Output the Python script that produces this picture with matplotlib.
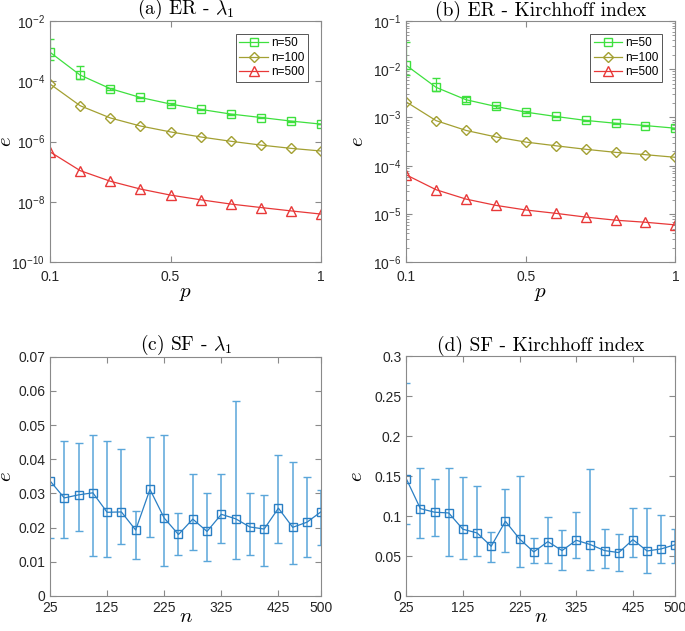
import matplotlib
matplotlib.use("Agg")
import matplotlib.pyplot as plt
import numpy as np

plt.rcParams['font.family'] = ['Liberation Sans', 'DejaVu Sans']
plt.rcParams['mathtext.fontset'] = 'cm'

# ---- ER data (p from 0.1 to 1) ----
p = [0.1, 0.2, 0.3, 0.4, 0.5, 0.6, 0.7, 0.8, 0.9, 1.0]

er_lam_50 = [9.1e-4, 1.6e-4, 5.7e-5, 2.9e-5, 1.76e-5, 1.17e-5, 8.2e-6, 6.3e-6, 4.8e-6, 3.8e-6]
er_lam_100 = [8.1e-5, 1.55e-5, 6.1e-6, 3.3e-6, 2.1e-6, 1.43e-6, 1.03e-6, 7.7e-7, 6.0e-7, 4.9e-7]
er_lam_500 = [4.6e-7, 1.1e-7, 4.9e-8, 2.7e-8, 1.7e-8, 1.19e-8, 8.6e-9, 6.6e-9, 5.1e-9, 4.0e-9]
er_lam_50_hi = [2.45e-3, 3.2e-4, 6.2e-5, 3.1e-5, 1.85e-5, 1.22e-5, 8.5e-6, 6.5e-6, 5.0e-6, 3.9e-6]
er_lam_50_lo = [5.0e-4, 1.23e-4, 5.2e-5, 2.7e-5, 1.67e-5, 1.12e-5, 7.9e-6, 6.1e-6, 4.6e-6, 3.7e-6]

er_kf_50 = [1.2e-2, 4.2e-3, 2.33e-3, 1.69e-3, 1.29e-3, 1.05e-3, 8.7e-4, 7.6e-4, 6.8e-4, 6.0e-4]
er_kf_100 = [2.1e-3, 8.6e-4, 5.4e-4, 3.96e-4, 3.1e-4, 2.6e-4, 2.2e-4, 1.9e-4, 1.7e-4, 1.5e-4]
er_kf_500 = [6.5e-5, 3.2e-5, 2.05e-5, 1.52e-5, 1.22e-5, 1.04e-5, 8.7e-6, 7.5e-6, 6.8e-6, 6.0e-6]
er_kf_50_hi = [3.6e-2, 6.6e-3, 2.6e-3, 1.8e-3, 1.35e-3, 1.09e-3, 9.0e-4, 7.8e-4, 7.0e-4, 6.2e-4]
er_kf_50_lo = [7.5e-3, 3.5e-3, 2.1e-3, 1.6e-3, 1.23e-3, 1.01e-3, 8.4e-4, 7.4e-4, 6.6e-4, 5.8e-4]

# ---- SF data (n from 25 to 500) ----
n = [25, 50, 75, 100, 125, 150, 175, 200, 225, 250, 275, 300, 325, 350, 375, 400, 425, 450, 475, 500]

sf_lam = [0.0337, 0.0287, 0.0296, 0.0302, 0.0245, 0.0246, 0.0193, 0.0312, 0.0228, 0.0180,
          0.0225, 0.0189, 0.0239, 0.0226, 0.0202, 0.0196, 0.0257, 0.0201, 0.0216, 0.0247]
sf_lam_hi = [0.0760, 0.0453, 0.0449, 0.0472, 0.0453, 0.0431, 0.0250, 0.0465, 0.0472, 0.0244,
             0.0357, 0.0301, 0.0357, 0.0572, 0.0300, 0.0295, 0.0412, 0.0391, 0.0347, 0.0310]
sf_lam_lo = [0.0170, 0.0170, 0.0190, 0.0117, 0.0115, 0.0151, 0.0109, 0.0174, 0.0089, 0.0121,
             0.0135, 0.0103, 0.0155, 0.0109, 0.0120, 0.0089, 0.0155, 0.0094, 0.0113, 0.0150]

sf_kf = [0.1469, 0.1093, 0.1048, 0.1039, 0.0835, 0.0789, 0.0622, 0.0935, 0.0714, 0.0551,
         0.0680, 0.0568, 0.0697, 0.0643, 0.0568, 0.0543, 0.0705, 0.0563, 0.0589, 0.0643]
sf_kf_hi = [0.2667, 0.1603, 0.1469, 0.1603, 0.1486, 0.1373, 0.0797, 0.1340, 0.1498, 0.0722,
            0.0985, 0.0826, 0.1048, 0.1594, 0.0835, 0.0772, 0.1098, 0.1098, 0.1010, 0.0839]
sf_kf_lo = [0.0900, 0.0726, 0.0751, 0.0501, 0.0459, 0.0501, 0.0430, 0.0551, 0.0363, 0.0417,
            0.0413, 0.0330, 0.0476, 0.0326, 0.0355, 0.0309, 0.0484, 0.0284, 0.0417, 0.0417]

green = '#3ee03e'
olive = '#a3a032'
red = '#e83838'
blue = '#2a7fc4'
ebar_blue = '#5aa6da'
spine_col = '#8a8a8a'


def style_axes(ax, xpad):
    for s in ax.spines.values():
        s.set_color(spine_col)
        s.set_linewidth(0.8)
    ax.tick_params(which='both', direction='in', top=True, right=True,
                   color=spine_col, labelsize=10, labelcolor='#262626')
    ax.tick_params(which='major', length=4)
    ax.tick_params(which='minor', length=2)
    ax.tick_params(axis='x', pad=xpad)


def er_panel(ax, y50, y100, y500, hi50, lo50, title, ylim, ylab_x):
    y50 = np.array(y50)
    yerr = [y50 - np.array(lo50), np.array(hi50) - y50]
    h1 = ax.errorbar(p, y50, yerr=yerr, color=green, marker='s', ms=5.5, mfc='none',
                     lw=0.9, capsize=3, elinewidth=0.9)
    h2, = ax.plot(p, y100, color=olive, marker='D', ms=5.5, mfc='none', lw=0.9)
    h3, = ax.plot(p, y500, color=red, marker='^', ms=6.5, mfc='none', lw=0.9)
    ax.set_yscale('log')
    ax.set_ylim(*ylim)
    ax.set_xlim(0.1, 1.0)
    ax.set_xticks([0.1, 0.5, 1.0])
    ax.set_xticklabels(['0.1', '0.5', '1'])
    ax.set_title(title, fontsize=14, pad=3, family='cmr10')
    ax.set_xlabel('$p$', fontsize=15, labelpad=0)
    ax.set_ylabel('$e$', fontsize=15)
    ax.yaxis.set_label_coords(ylab_x, 0.5)
    style_axes(ax, 5.5)
    leg = ax.legend([h1.lines[0], h2, h3], ['n=50', 'n=100', 'n=500'], loc='upper right',
                    fontsize=8.5, fancybox=False, framealpha=1,
                    edgecolor='#555555', borderpad=0.3, handlelength=2.4,
                    handletextpad=0.3, labelspacing=0.2, borderaxespad=1.1)
    leg.get_frame().set_linewidth(0.7)


def sf_panel(ax, y, hi, lo, title, ylim, yticks, yticklabels, ylab_x):
    y = np.array(y)
    yerr = [y - np.array(lo), np.array(hi) - y]
    ax.errorbar(n, y, yerr=yerr, fmt='none', ecolor=ebar_blue, elinewidth=1.1,
                capsize=3, capthick=1.0)
    ax.plot(n, y, color=blue, marker='s', ms=5.5, mfc='none', lw=0.9)
    ax.set_xlim(25, 500)
    ax.set_xticks([25, 125, 225, 325, 425, 500])
    ax.set_ylim(*ylim)
    ax.set_yticks(yticks)
    ax.set_yticklabels(yticklabels)
    ax.set_title(title, fontsize=14, pad=3, family='cmr10')
    ax.set_xlabel('$n$', fontsize=15, labelpad=-6)
    ax.set_ylabel('$e$', fontsize=15)
    ax.yaxis.set_label_coords(ylab_x, 0.5)
    style_axes(ax, 3.5)


fig = plt.figure(figsize=(6.85, 6.31), dpi=100)
ax_a = fig.add_axes([0.073, 0.584, 0.396, 0.383])
ax_b = fig.add_axes([0.593, 0.584, 0.393, 0.383])
ax_c = fig.add_axes([0.073, 0.0555, 0.396, 0.379])
ax_d = fig.add_axes([0.593, 0.0555, 0.393, 0.380])

er_panel(ax_a, er_lam_50, er_lam_100, er_lam_500, er_lam_50_hi, er_lam_50_lo,
         r'(a) ER - $\lambda_1$', (1e-10, 1e-2), -0.128)
ax_a.set_yticks([1e-10, 1e-8, 1e-6, 1e-4, 1e-2])
ax_a.yaxis.set_minor_locator(matplotlib.ticker.NullLocator())

er_panel(ax_b, er_kf_50, er_kf_100, er_kf_500, er_kf_50_hi, er_kf_50_lo,
         '(b) ER - Kirchhoff index', (1e-6, 1e-1), -0.145)

sf_panel(ax_c, sf_lam, sf_lam_hi, sf_lam_lo, r'(c) SF - $\lambda_1$', (0, 0.07),
         [0, 0.01, 0.02, 0.03, 0.04, 0.05, 0.06, 0.07],
         ['0', '0.01', '0.02', '0.03', '0.04', '0.05', '0.06', '0.07'], -0.13)
sf_panel(ax_d, sf_kf, sf_kf_hi, sf_kf_lo, '(d) SF - Kirchhoff index', (0, 0.3),
         [0, 0.05, 0.1, 0.15, 0.2, 0.25, 0.3],
         ['0', '0.05', '0.1', '0.15', '0.2', '0.25', '0.3'], -0.15)

fig.savefig('out.png', dpi=100)
